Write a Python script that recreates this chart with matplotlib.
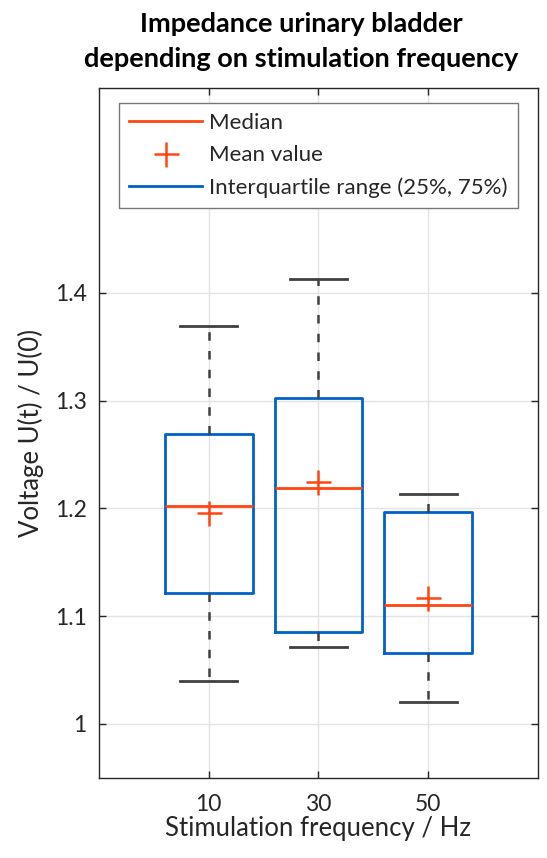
import matplotlib.pyplot as plt
from matplotlib.lines import Line2D

plt.rcParams['font.family'] = ['Lato', 'DejaVu Sans']

# values
freqs = ['10', '30', '50']
q1 = [1.121, 1.085, 1.066]
q3 = [1.269, 1.302, 1.197]
medians = [1.202, 1.219, 1.110]
means = [1.196, 1.224, 1.117]
whis_lo = [1.040, 1.071, 1.020]
whis_hi = [1.369, 1.413, 1.213]

BLUE = '#0062c8'
RED = '#ff4512'
GRAY = '#404040'
TXT = '#262626'

stats = []
for i in range(len(freqs)):
    stats.append(dict(label=freqs[i], q1=q1[i], q3=q3[i], med=medians[i],
                      mean=means[i], whislo=whis_lo[i], whishi=whis_hi[i],
                      fliers=[]))

fig = plt.figure(figsize=(5.47, 8.58), dpi=100)
ax = fig.add_axes([0.181, 0.0936, 0.8025, 0.8038])

ax.bxp(stats, positions=[1, 2, 3], widths=0.8, capwidths=0.52,
       showmeans=True, patch_artist=False,
       boxprops=dict(color=BLUE, linewidth=2.0),
       medianprops=dict(color=RED, linewidth=2.0),
       meanprops=dict(marker='+', markeredgecolor=RED, markersize=18,
                      markeredgewidth=1.8, linestyle='none'),
       whiskerprops=dict(color=GRAY, linewidth=1.8, linestyle=(0, (3.4, 4.1))),
       capprops=dict(color=GRAY, linewidth=2.0))

ax.set_xlim(0, 4)
ax.set_ylim(0.95, 1.59)
ax.set_yticks([1.0, 1.1, 1.2, 1.3, 1.4])
ax.set_yticklabels(['1', '1.1', '1.2', '1.3', '1.4'])
ax.set_xticks([1, 2, 3])
ax.set_xticklabels(freqs)
ax.grid(True, color='#e3e3e3', linewidth=1.0)
ax.set_axisbelow(True)
ax.tick_params(direction='in', top=True, right=True, length=5,
               labelsize=16.5, colors=TXT, width=1.0, pad=9)
ax.tick_params(axis='x', pad=12)
for sp in ax.spines.values():
    sp.set_color(TXT)
    sp.set_linewidth(1.0)

ax.set_xlabel('Stimulation frequency / Hz', fontsize=18.5, color=TXT, labelpad=0.5)
ax.set_ylabel('Voltage U(t) / U(0)', fontsize=18.5, color=TXT, labelpad=8)
ax.set_title('Impedance urinary bladder\ndepending on stimulation frequency',
             fontsize=19.5, fontweight='bold', pad=15, linespacing=1.57, x=0.46)

handles = [
    Line2D([], [], color=RED, linewidth=2.0),
    Line2D([], [], color=RED, marker='+', markersize=18, markeredgewidth=1.8, linestyle='none'),
    Line2D([], [], color=BLUE, linewidth=2.0),
]
labels = ['Median', 'Mean value', 'Interquartile range (25%, 75%)']
leg = ax.legend(handles, labels, loc='upper left', bbox_to_anchor=(0.0456, 0.978),
                fontsize=16, fancybox=False, framealpha=1, edgecolor='#777777',
                handlelength=3.3, handletextpad=0.3, borderpad=0.45, labelspacing=0.55,
                borderaxespad=0)
leg.get_frame().set_linewidth(1.0)
for t in leg.get_texts():
    t.set_color(TXT)

fig.savefig('out.png', dpi=100)
